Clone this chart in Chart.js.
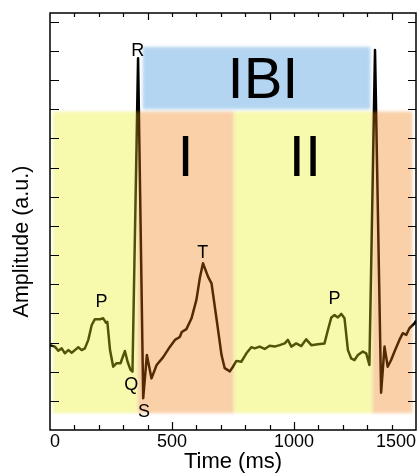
<!DOCTYPE html>
<html>
<head>
<meta charset="utf-8">
<title>ECG IBI</title>
<script src="https://cdn.jsdelivr.net/npm/chart.js@4.4.1/dist/chart.umd.min.js"></script>
<style>
  html, body { margin: 0; padding: 0; background: #fff; }
  canvas { display: block; }
</style>
</head>
<body>
<canvas id="ecgChart" width="417" height="475"></canvas>
<script>
// ECG trace (time in ms, amplitude in a.u. = one y tick per unit)
const timeMs = [0, 20, 34, 48, 61, 75, 89, 102, 116, 130, 143, 157, 171, 184, 205, 218, 229, 235, 246, 259,
  273, 289, 307, 318, 330, 338, 361, 382, 397, 416, 437, 464, 491, 512, 532, 540, 559, 580, 600, 614,
  627, 648, 662, 682, 703, 716, 737, 750, 764, 784, 805, 825, 839, 859, 880, 900, 921, 941, 962, 975,
  989, 1009, 1030, 1050, 1071, 1098, 1125, 1139, 1153, 1166, 1180, 1194, 1207, 1221, 1234, 1248, 1262, 1282, 1296, 1309,
  1332, 1357, 1371, 1384, 1398, 1412, 1432, 1446, 1460, 1473, 1494, 1500];
const amplitude = [2.91, 2.86, 2.72, 2.80, 2.63, 2.74, 2.65, 2.74, 2.84, 2.74, 2.80, 3.09, 3.60, 3.80, 3.80, 3.83, 3.68, 3.71, 2.74, 2.17,
  2.29, 2.29, 2.71, 2.34, 2.06, 2.00, 12.75, 1.09, 2.57, 1.77, 2.23, 2.50, 2.85, 3.09, 3.19, 3.36, 3.46, 3.83, 4.46, 5.21,
  5.72, 5.25, 5.03, 3.84, 2.57, 2.12, 2.01, 2.17, 2.37, 2.34, 2.63, 2.84, 2.80, 2.86, 2.78, 2.89, 2.86, 2.91, 2.97, 3.09,
  2.86, 2.97, 2.88, 3.11, 2.91, 2.94, 2.97, 3.43, 3.86, 3.94, 3.86, 3.98, 3.83, 2.74, 2.46, 2.40, 2.57, 2.69, 2.63, 2.23,
  13.03, 1.28, 2.86, 2.17, 2.40, 2.69, 3.09, 3.32, 3.26, 3.49, 3.66, 3.75];

// shaded cardiac phases (ms), and the amplitude band they cover
const phaseStart = [12, 360, 753, 1322];
const phaseEnd = [360, 753, 1322, 1485];
const phaseKind = ["yellow", "orange", "yellow", "orange"];
const phaseRange = [0.58, 10.92];

// inter-beat interval bar
const ibiSpan = [380, 1313];
const ibiRange = [11.0, 13.14];

// big interval labels and wave letters (placed at ms / a.u.)
const intervalText = ["IBI", "I", "II"];
const intervalTime = [873, 556, 1045];
const intervalAmp = [11.39, 8.71, 8.71];
const waveText = ["R", "P", "Q", "S", "T", "P"];
const waveTime = [360, 211, 333, 385, 626, 1166];
const waveAmp = [12.83, 4.22, 1.37, 0.45, 5.9, 4.32];

const xTickLabels = [0, 500, 1000, 1500];

// translucent fills drawn over the black trace (gives the olive/brown line)
const fills = {
  yellow: "rgba(232,238,21,0.35)",
  orange: "rgba(238,121,6,0.35)",
  blue: "rgba(40,134,215,0.35)",
};
const FONT = "'Liberation Sans', Arial, sans-serif";

const overlay = {
  id: "ecgOverlay",
  afterDatasetsDraw(chart) {
    const { ctx, chartArea: a, scales: { x, y } } = chart;
    ctx.save();

    ctx.filter = "blur(1.5px)";
    const yTop = y.getPixelForValue(phaseRange[1]);
    const yBot = y.getPixelForValue(phaseRange[0]);
    for (let i = 0; i < phaseStart.length; i++) {
      const x0 = x.getPixelForValue(phaseStart[i]);
      const x1 = x.getPixelForValue(phaseEnd[i]);
      ctx.fillStyle = fills[phaseKind[i]];
      ctx.fillRect(x0, yTop, x1 - x0, yBot - yTop);
    }
    const bx0 = x.getPixelForValue(ibiSpan[0]);
    const bx1 = x.getPixelForValue(ibiSpan[1]);
    const by0 = y.getPixelForValue(ibiRange[1]);
    const by1 = y.getPixelForValue(ibiRange[0]);
    ctx.fillStyle = fills.blue;
    ctx.fillRect(bx0, by0, bx1 - bx0, by1 - by0);
    ctx.filter = "none";

    // labels
    ctx.fillStyle = "#000";
    ctx.textAlign = "center";
    ctx.textBaseline = "alphabetic";
    ctx.font = "58px " + FONT;
    intervalText.forEach((t, i) => {
      ctx.fillText(t, x.getPixelForValue(intervalTime[i]), y.getPixelForValue(intervalAmp[i]));
    });
    ctx.font = "18px " + FONT;
    waveText.forEach((t, i) => {
      ctx.fillText(t, x.getPixelForValue(waveTime[i]), y.getPixelForValue(waveAmp[i]));
    });

    // frame
    ctx.strokeStyle = "#000";
    ctx.lineWidth = 1.5;
    ctx.strokeRect(a.left, a.top, a.right - a.left, a.bottom - a.top);

    // inward ticks
    ctx.lineWidth = 1.2;
    ctx.beginPath();
    for (let t = 100; t < 1500; t += 100) {
      const px = Math.round(x.getPixelForValue(t)) + 0.5;
      const lb = t % 500 === 0 ? 8 : 5;
      ctx.moveTo(px, a.bottom);
      ctx.lineTo(px, a.bottom - lb);
      // top axis is offset: long ticks at 400, 900, 1400
      const lt = t % 500 === 400 ? 7 : 4;
      ctx.moveTo(px, a.top);
      ctx.lineTo(px, a.top + lt);
    }
    for (let v = 1; v <= 14; v++) {
      const py = Math.round(y.getPixelForValue(v)) + 0.5;
      ctx.moveTo(a.left, py);
      ctx.lineTo(a.left + 9, py);
      ctx.moveTo(a.right, py);
      ctx.lineTo(a.right - 8, py);
    }
    ctx.stroke();

    // y title (sits a bit below the axis centre in the original)
    ctx.save();
    ctx.translate(22, (a.top + a.bottom) / 2 + 20);
    ctx.rotate(-Math.PI / 2);
    ctx.font = "21.5px " + FONT;
    ctx.textBaseline = "middle";
    ctx.fillText("Amplitude (a.u.)", 0, 0);
    ctx.restore();

    ctx.restore();
  },
};

const ctx = document.getElementById("ecgChart").getContext("2d");
new Chart(ctx, {
  type: "line",
  data: {
    datasets: [
      {
        data: timeMs.map((t, i) => ({ x: t, y: amplitude[i] })),
        borderColor: "#000",
        borderWidth: 2.5,
        borderJoinStyle: "round",
        pointRadius: 0,
        tension: 0,
      },
    ],
  },
  options: {
    responsive: false,
    animation: false,
    layout: { padding: { top: 13, right: 1, left: 0, bottom: 0 } },
    plugins: { legend: { display: false }, tooltip: { enabled: false } },
    scales: {
      x: {
        type: "linear",
        min: 0,
        max: 1500,
        afterBuildTicks: (s) => { s.ticks = xTickLabels.map((v) => ({ value: v })); },
        ticks: {
          align: "inner",
          autoSkip: false,
          maxRotation: 0,
          padding: 1,
          color: "#000",
          font: { family: FONT, size: 18, lineHeight: 1.2 },
          callback: (v) => String(v),
        },
        grid: { display: false, drawTicks: false },
        border: { display: false },
        title: {
          display: true,
          text: "Time (ms)",
          color: "#000",
          font: { family: FONT, size: 22, lineHeight: 1.2 },
          padding: { top: 0, bottom: 0 },
        },
        afterFit: (s) => { s.height = 45; },
      },
      y: {
        type: "linear",
        min: 0,
        max: 14.3,
        ticks: { display: false },
        grid: { display: false, drawTicks: false },
        border: { display: false },
        afterFit: (s) => { s.width = 50; },
      },
    },
  },
  plugins: [overlay],
});
</script>
</body>
</html>
